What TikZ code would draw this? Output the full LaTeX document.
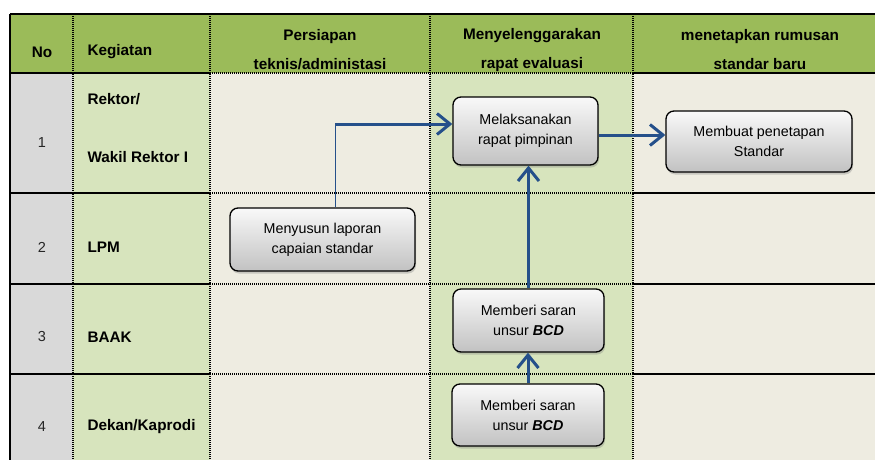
\documentclass[tikz,border=0pt]{standalone}
\usepackage{fontspec}
\setmainfont{Liberation Sans}
\usetikzlibrary{arrows.meta,shadows}

\definecolor{hijau}{RGB}{155,187,89}
\definecolor{hijaumuda}{RGB}{215,228,189}
\definecolor{krem}{RGB}{238,236,225}
\definecolor{abu}{RGB}{217,217,217}
\definecolor{biru}{RGB}{37,80,138}

\tikzset{
  kotak/.style={draw=black,line width=1.3pt,rounded corners=8pt,
    top color=gray!5,bottom color=gray!48,align=center,inner sep=0pt,
    font=\fontsize{14.3}{20}\selectfont,
    drop shadow={opacity=0.35,shadow xshift=1pt,shadow yshift=-2.5pt}},
  judul/.style={font=\bfseries\fontsize{15.3}{29}\selectfont,align=center},
  baris/.style={font=\bfseries\fontsize{15.3}{18}\selectfont,anchor=west},
  nomor/.style={font=\fontsize{14.5}{18}\selectfont,text=black!85},
  garis/.style={line width=1.1pt},
  titik/.style={line width=1.1pt,dash pattern=on 1pt off 1pt},
  alur/.style={draw=biru,line width=3pt,-{Straight Barb[length=13pt,width=21pt]}},
}

\begin{document}
\begin{tikzpicture}[x=1pt,y=-1pt]
\useasboundingbox (0,0) rectangle (875,460);

% latar kolom
\fill[hijau] (10,14) rectangle (875,73);
\fill[abu] (10,73) rectangle (73,460);
\fill[hijaumuda] (73,73) rectangle (210,460);
\fill[krem] (210,73) rectangle (430,460);
\fill[hijaumuda] (430,73) rectangle (633,460);
\fill[krem] (633,73) rectangle (875,460);

% kepala tabel
\node[judul] (hno) at (42,52) {No};
\node[judul,anchor=west] (hkeg) at (84,52) {Kegiatan};
\node[judul] (hpers) at (320,50) {Persiapan\\teknis/administasi};
\node[judul] (hrapat) at (532,50) {Menyelenggarakan\\rapat evaluasi};
\node[judul] (htetap) at (760,50) {menetapkan rumusan\\standar baru};

% baris
\node[nomor] (n1) at (42,143) {1};
\node[nomor] (n2) at (42,247) {2};
\node[nomor] (n3) at (42,337) {3};
\node[nomor] (n4) at (42,427) {4};
\node[baris] (k1a) at (84,99) {Rektor/};
\node[baris] (k1b) at (84,157) {Wakil Rektor I};
\node[baris] (k2) at (84,247) {LPM};
\node[baris] (k3) at (84,337) {BAAK};
\node[baris] (k4) at (84,427) {Dekan/Kaprodi};

% garis tabel
\draw[garis] (10,14) -- (875,14);
\draw[garis] (10,14) -- (10,460);
\foreach \x in {73,210,430,633}
  \draw[titik] (\x,14) -- (\x,460);
\foreach \y in {73,193,284,374} {
  \draw[garis] (10,\y) -- (210,\y);
  \draw[titik] (210,\y) -- (633,\y);
  \draw[garis] (633,\y) -- (875,\y);
}

% kotak kegiatan
\node[kotak,minimum width=145pt,minimum height=68pt] (rapat) at (525.5,131) {Melaksanakan\\rapat pimpinan};
\node[kotak,minimum width=186pt,minimum height=61pt] (tetap) at (759,141.5) {Membuat penetapan\\Standar};
\node[kotak,minimum width=185pt,minimum height=63pt] (susun) at (322.5,239.5) {Menyusun laporan\\capaian standar};
\node[kotak,minimum width=151pt,minimum height=63pt] (saran1) at (528.5,320.5) {Memberi saran\\unsur \textbf{\textit{BCD}}};
\node[kotak,minimum width=152pt,minimum height=62pt] (saran2) at (528,415) {Memberi saran\\unsur \textbf{\textit{BCD}}};

% alur
\coordinate (belok) at (335,124);
\draw[biru,line width=0.9pt] (susun.north -| belok) -- (belok);
\draw[alur] (belok) -- (belok -| rapat.west);
\draw[alur] ([yshift=-4pt]rapat.east) -- ([yshift=-4pt]rapat.east -| tetap.west);
\draw[alur] (saran1.north) -- (saran1.north |- rapat.south);
\draw[alur] (saran2.north) -- (saran2.north |- saran1.south);

\end{tikzpicture}
\end{document}
